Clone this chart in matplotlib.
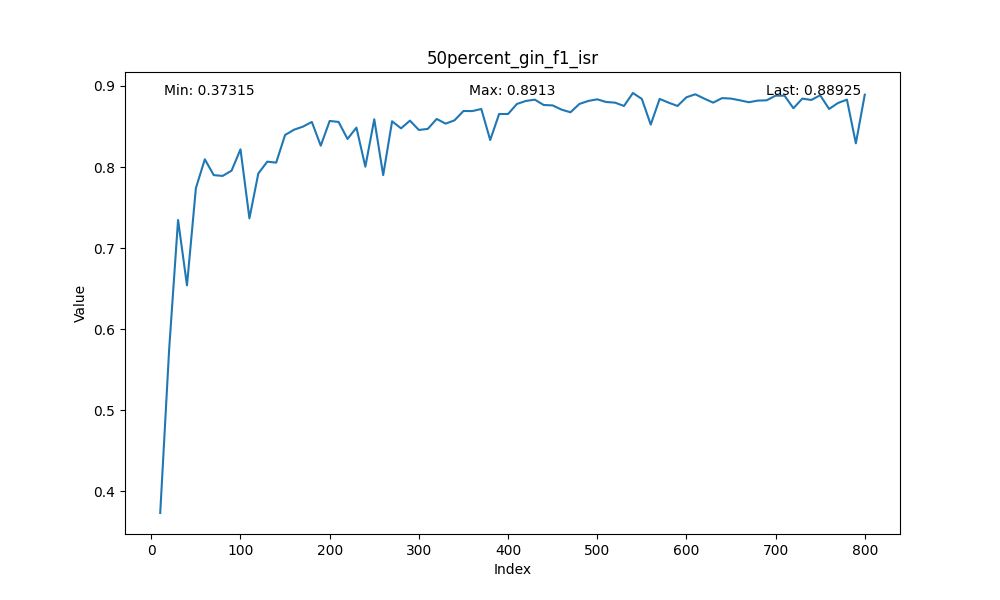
import matplotlib
matplotlib.use("Agg")
import matplotlib.pyplot as plt
import numpy as np

title = "50percent_gin_f1_isr"

# evaluated every 10 steps
index = list(range(10, 810, 10))
values = [
    0.37315, 0.575, 0.7346, 0.654, 0.774, 0.8095, 0.790, 0.789, 0.7955, 0.8218,
    0.7367, 0.792, 0.8066, 0.8054, 0.8395, 0.8460, 0.8498, 0.8556, 0.8263, 0.8568,
    0.8556, 0.8346, 0.8486, 0.8004, 0.8589, 0.790, 0.8564, 0.8477, 0.8572, 0.8457,
    0.847, 0.8593, 0.8535, 0.8576, 0.8691, 0.869, 0.8716, 0.8333, 0.8654, 0.8654,
    0.8778, 0.8815, 0.8831, 0.8765, 0.876, 0.8708, 0.8675, 0.8778, 0.8815, 0.8835,
    0.8802, 0.8794, 0.8753, 0.8913, 0.884, 0.8523, 0.884, 0.8794, 0.8753, 0.886,
    0.8897, 0.8844, 0.8794, 0.8850, 0.8844, 0.8823, 0.8799, 0.8819, 0.8823, 0.888,
    0.888, 0.8725, 0.8844, 0.8827, 0.8885, 0.8716, 0.879, 0.8831, 0.8292, 0.88925,
]

vals = np.array(values)

fig, ax = plt.subplots(figsize=(10, 6), dpi=100)
ax.plot(index, vals)
ax.set_title(title)
ax.set_xlabel("Index")
ax.set_ylabel("Value")

ax.text(0.05, 0.95, f"Min: {vals.min():.5g}", transform=ax.transAxes)
ax.text(0.5, 0.95, f"Max: {vals.max():.5g}", transform=ax.transAxes, ha="center")
ax.text(0.95, 0.95, f"Last: {vals[-1]:.5g}", transform=ax.transAxes, ha="right")

fig.savefig("out.png")
